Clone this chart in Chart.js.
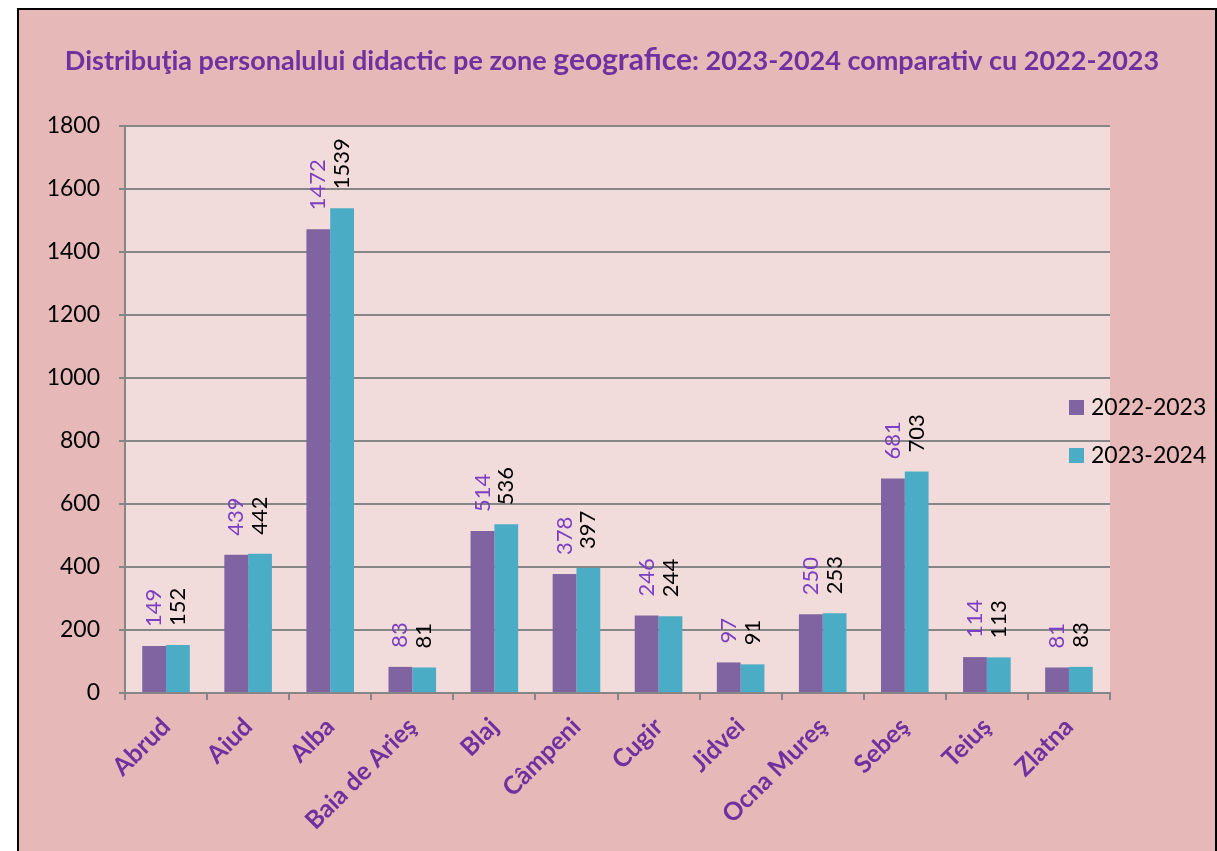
<!DOCTYPE html>
<html>
<head>
<meta charset="utf-8">
<script src="https://cdn.jsdelivr.net/npm/chart.js@4"></script>
<style>
  html, body { margin: 0; padding: 0; background: #fff; overflow: hidden; }
  #box {
    position: absolute; left: 17px; top: 8px;
    width: 1196px; height: 860px;
    border: 2px solid #000; background: #E6B9B8;
  }
  canvas { display: block; }
</style>
</head>
<body>
<div id="box"><canvas id="c" width="1196" height="841"></canvas></div>
<script>
const zones = ["Abrud", "Aiud", "Alba", "Baia de Arieş", "Blaj", "Câmpeni", "Cugir",
  "Jidvei", "Ocna Mureş", "Sebeş", "Teiuş", "Zlatna"];
const an2223 = [149, 439, 1472, 83, 514, 378, 246, 97, 250, 681, 114, 81];
const an2324 = [152, 442, 1539, 81, 536, 397, 244, 91, 253, 703, 113, 83];
const seriesNames = ["2022-2023", "2023-2024"];
const yTicks = [0, 200, 400, 600, 800, 1000, 1200, 1400, 1600, 1800];

const titleParts = [
  ["Distribuţia personalului didactic pe zone ", 27],
  ["geografice", 30],
  [": 2023-2024 comparativ cu 2022-2023", 27]
];

// plot area fill + title + legend + value labels
const extras = {
  id: "extras",
  beforeDraw(chart) {
    const { ctx, chartArea: a } = chart;
    ctx.save();
    ctx.fillStyle = "#F2DCDB";
    ctx.fillRect(a.left, a.top, a.right - a.left, a.bottom - a.top);
    ctx.restore();
  },
  afterDatasetsDraw(chart) {
    const ctx = chart.ctx;
    ctx.save();

    // title
    let total = 0;
    titleParts.forEach(p => {
      ctx.font = "bold " + p[1] + "px Lato";
      total += ctx.measureText(p[0]).width;
    });
    let x = chart.width / 2 - 5 - total / 2;
    ctx.fillStyle = "#7030A0";
    ctx.textBaseline = "alphabetic";
    ctx.textAlign = "left";
    titleParts.forEach(p => {
      ctx.font = "bold " + p[1] + "px Lato";
      ctx.fillText(p[0], x, 60);
      x += ctx.measureText(p[0]).width;
    });

    // value labels, rotated
    const labelColors = ["#7A3FC2", "#000000"];
    ctx.font = "22px Lato";
    ctx.textBaseline = "middle";
    chart.data.datasets.forEach((ds, i) => {
      chart.getDatasetMeta(i).data.forEach((bar, j) => {
        ctx.save();
        ctx.translate(bar.x, bar.y - 19);
        ctx.rotate(-Math.PI / 2);
        ctx.fillStyle = labelColors[i];
        ctx.fillText(String(ds.data[j]), 0, 0);
        ctx.restore();
      });
    });

    // legend
    ctx.font = "23px Lato";
    chart.data.datasets.forEach((ds, i) => {
      const cy = 397 + i * 48;
      ctx.fillStyle = ds.backgroundColor;
      ctx.fillRect(1050, cy - 7, 15, 15);
      ctx.fillStyle = "#000";
      ctx.fillText(ds.label, 1072, cy + 1);
    });
    ctx.restore();
  }
};

new Chart(document.getElementById("c"), {
  type: "bar",
  data: {
    labels: zones,
    datasets: [
      { label: seriesNames[0], data: an2223, backgroundColor: "#8064A2" },
      { label: seriesNames[1], data: an2324, backgroundColor: "#4BACC6" }
    ]
  },
  options: {
    responsive: false,
    animation: false,
    devicePixelRatio: 1,
    categoryPercentage: 0.58,
    barPercentage: 1,
    layout: { padding: { top: 116, right: 105, left: 0, bottom: 0 } },
    plugins: {
      legend: { display: false },
      title: { display: false },
      tooltip: { enabled: false }
    },
    scales: {
      y: {
        min: 0,
        max: 1800,
        afterBuildTicks: s => { s.ticks = yTicks.map(v => ({ value: v })); },
        afterFit: s => { s.width = 106; },
        border: { color: "#868686", width: 2 },
        grid: { color: "#868686", lineWidth: 2, tickLength: 6 },
        ticks: {
          color: "#000",
          padding: 19,
          font: { family: "Lato", size: 23 },
          callback: v => String(v)
        }
      },
      x: {
        afterFit: s => { s.height = 158; },
        border: { color: "#868686", width: 2 },
        grid: { drawOnChartArea: false, color: "#868686", lineWidth: 2, tickLength: 7 },
        ticks: {
          color: "#7030A0",
          minRotation: 45,
          maxRotation: 45,
          autoSkip: false,
          padding: 12,
          font: { family: "Lato", size: 25, weight: "bold" }
        }
      }
    }
  },
  plugins: [extras]
});
</script>
</body>
</html>
